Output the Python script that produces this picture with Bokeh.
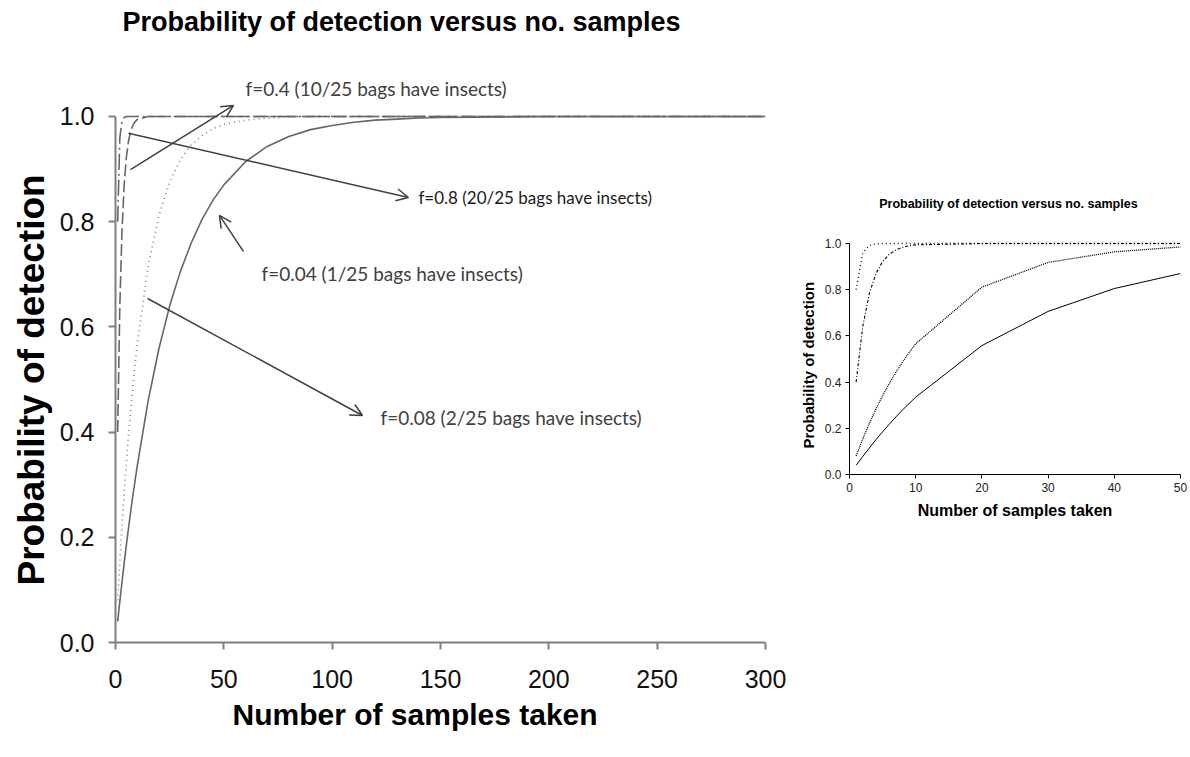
from bokeh.plotting import figure
from bokeh.models import Range1d, FixedTicker, PrintfTickFormatter, Arrow, OpenHead, Label, Spacer, Title
from bokeh.layouts import row, column
from bokeh.embed import file_html
from bokeh.resources import INLINE

# ---------------- data: left (large) chart ----------------
left_n = [1, 2, 3, 4, 5, 6, 7, 8, 9, 10, 15, 20, 25, 30, 35, 40, 45, 50,
          60, 70, 80, 90, 100, 110, 120, 130, 140, 150, 200, 250, 300]
left_f004 = [0.04, 0.078, 0.115, 0.151, 0.185, 0.217, 0.249, 0.279, 0.307, 0.335,
             0.458, 0.558, 0.640, 0.706, 0.760, 0.805, 0.841, 0.870,
             0.914, 0.943, 0.962, 0.975, 0.983, 0.989, 0.993, 0.995, 0.997, 0.998,
             1.0, 1.0, 1.0]
left_f008 = [0.08, 0.154, 0.221, 0.284, 0.341, 0.394, 0.442, 0.487, 0.528, 0.566,
             0.714, 0.811, 0.876, 0.918, 0.946, 0.964, 0.977, 0.985,
             0.993, 0.997, 0.999, 1.0, 1.0, 1.0, 1.0, 1.0, 1.0, 1.0,
             1.0, 1.0, 1.0]
left_f04 = [0.40, 0.64, 0.784, 0.870, 0.922, 0.953, 0.972, 0.983, 0.990, 0.994,
            1.0, 1.0, 1.0, 1.0, 1.0, 1.0, 1.0, 1.0,
            1.0, 1.0, 1.0, 1.0, 1.0, 1.0, 1.0, 1.0, 1.0, 1.0,
            1.0, 1.0, 1.0]
left_f08 = [0.80, 0.96, 0.992, 0.998, 1.0, 1.0, 1.0, 1.0, 1.0, 1.0,
            1.0, 1.0, 1.0, 1.0, 1.0, 1.0, 1.0, 1.0,
            1.0, 1.0, 1.0, 1.0, 1.0, 1.0, 1.0, 1.0, 1.0, 1.0,
            1.0, 1.0, 1.0]
left_xticks = [0, 50, 100, 150, 200, 250, 300]
left_yticks = [0.0, 0.2, 0.4, 0.6, 0.8, 1.0]

# ---------------- data: right (small) chart ----------------
right_n = [1, 2, 3, 4, 5, 6, 7, 8, 9, 10, 20, 30, 40, 50]
right_f004 = [0.04, 0.078, 0.115, 0.151, 0.185, 0.217, 0.249, 0.279, 0.307, 0.335,
              0.558, 0.706, 0.805, 0.870]
right_f008 = [0.08, 0.154, 0.221, 0.284, 0.341, 0.394, 0.442, 0.487, 0.528, 0.566,
              0.811, 0.918, 0.964, 0.985]
right_f04 = [0.40, 0.64, 0.784, 0.870, 0.922, 0.953, 0.972, 0.983, 0.990, 0.994,
             1.0, 1.0, 1.0, 1.0]
right_f08 = [0.80, 0.96, 0.992, 0.998, 1.0, 1.0, 1.0, 1.0, 1.0, 1.0,
             1.0, 1.0, 1.0, 1.0]
right_xticks = [0, 10, 20, 30, 40, 50]
right_yticks = [0.0, 0.2, 0.4, 0.6, 0.8, 1.0]

title_text = "Probability of detection versus no. samples"
ylabel_text = "Probability of detection"
xlabel_text = "Number of samples taken"
note_f04 = "f=0.4 (10/25 bags have insects)"
note_f08 = "f=0.8 (20/25 bags have insects)"
note_f004 = "f=0.04 (1/25 bags have insects)"
note_f008 = "f=0.08 (2/25 bags have insects)"

AXIS_GRAY = "#7f7f7f"
CURVE_GRAY = "#666666"
NOTE_GRAY = "#404040"
SANS = "Liberation Sans"

# ================= left figure =================
p = figure(width=790, height=750, x_range=Range1d(0, 300), y_range=Range1d(0, 1.2167),
           output_backend="svg", toolbar_location=None, title=None,
           min_border_left=115, min_border_right=25, min_border_top=2, min_border_bottom=108)
p.outline_line_color = None
p.xgrid.visible = False
p.ygrid.visible = False

p.line(left_n, left_f004, line_color=CURVE_GRAY, line_width=1.6)
p.line(left_n, left_f008, line_color="#8a8a8a", line_width=1.8, line_dash="1 4")
p.line(left_n, left_f04, line_color=CURVE_GRAY, line_width=1.6, line_dash="12 4")
p.line(left_n, left_f08, line_color=CURVE_GRAY, line_width=1.6, line_dash="16 4 2 4")

for ax in (p.xaxis, p.yaxis):
    ax.axis_line_color = AXIS_GRAY
    ax.axis_line_width = 2
    ax.major_tick_line_color = AXIS_GRAY
    ax.major_tick_line_width = 2
    ax.major_tick_out = 7
    ax.major_tick_in = 0
    ax.minor_tick_line_color = None
    ax.major_label_text_font = SANS
    ax.major_label_text_font_size = "25px"
    ax.major_label_text_color = "#111111"
p.xaxis.bounds = (0, 300)
p.yaxis.bounds = (0, 1)
p.xaxis.ticker = FixedTicker(ticks=left_xticks)
p.yaxis.ticker = FixedTicker(ticks=left_yticks)
p.yaxis.formatter = PrintfTickFormatter(format="%.1f")
p.xaxis.major_label_standoff = 20
p.yaxis.major_label_standoff = 14

p.add_layout(Title(text=xlabel_text, align="left", offset=117, text_font=SANS,
                   text_font_style="bold", text_font_size="30px", text_color="#000000"), "below")
p.add_layout(Title(text=ylabel_text, align="left", offset=57, text_font=SANS,
                   text_font_style="bold", text_font_size="37px", text_color="#000000"), "left")
p.add_layout(Label(x=132, y=1.1787, text=title_text, text_align="center",
                   text_baseline="middle", text_font=SANS,
                   text_font_style="bold", text_font_size="27px", text_color="#000000"))

arrows = [
    (6.92, 0.899, 54.46, 1.021),
    (6.0, 0.968, 135.2, 0.846),
    (59.1, 0.743, 48.0, 0.812),
    (14.8, 0.654, 114.0, 0.4316),
]
for xs, ys, xe, ye in arrows:
    p.add_layout(Arrow(end=OpenHead(size=12, line_color=NOTE_GRAY, line_width=1.5),
                       x_start=xs, y_start=ys, x_end=xe, y_end=ye,
                       line_color=NOTE_GRAY, line_width=1.5))

notes = [
    (60.0, 1.053, note_f04, "19px", NOTE_GRAY),
    (139.8, 0.846, note_f08, "17px", "#1a1a1a"),
    (67.4, 0.7015, note_f004, "19px", NOTE_GRAY),
    (122.3, 0.4278, note_f008, "19px", NOTE_GRAY),
]
for x, y, t, fs, col in notes:
    p.add_layout(Label(x=x, y=y, text=t, text_align="left", text_baseline="middle",
                       text_font="Lato", text_font_size=fs, text_color=col))

# ================= right figure =================
q = figure(width=400, height=339, x_range=Range1d(0, 50), y_range=Range1d(0, 1.2424),
           output_backend="svg", toolbar_location=None, title=None,
           min_border_left=59, min_border_right=10, min_border_top=2, min_border_bottom=50)
q.outline_line_color = None
q.xgrid.visible = False
q.ygrid.visible = False

q.line(right_n, right_f004, line_color="black", line_width=1)
q.line(right_n, right_f008, line_color="black", line_width=1.3, line_dash="1 1")
q.line(right_n, right_f04, line_color="black", line_width=1.1, line_dash="3 2 1 2")
q.line(right_n, right_f08, line_color="black", line_width=1.3, line_dash="1 3")

for ax in (q.xaxis, q.yaxis):
    ax.axis_line_color = "black"
    ax.axis_line_width = 1
    ax.major_tick_line_color = "black"
    ax.major_tick_out = 4
    ax.major_tick_in = 0
    ax.minor_tick_line_color = None
    ax.major_label_text_font = SANS
    ax.major_label_text_font_size = "12px"
    ax.major_label_text_color = "#222222"
q.xaxis.bounds = (0, 50)
q.yaxis.bounds = (0, 1)
q.xaxis.ticker = FixedTicker(ticks=right_xticks)
q.yaxis.ticker = FixedTicker(ticks=right_yticks)
q.yaxis.formatter = PrintfTickFormatter(format="%.1f")
q.xaxis.major_label_standoff = 4
q.yaxis.major_label_standoff = 4

q.add_layout(Label(x=24.0, y=1.173, text=title_text, text_align="center",
                   text_baseline="middle", text_font=SANS,
                   text_font_style="bold", text_font_size="12.5px", text_color="#000000"))
q.add_layout(Title(text=xlabel_text, align="center", text_font=SANS,
                   text_font_style="bold", text_font_size="16px", text_color="#000000"), "below")
q.add_layout(Title(text=ylabel_text, align="left", offset=26, text_font=SANS,
                   text_font_style="bold", text_font_size="15px", text_color="#000000"), "left")

layout = row(p, column(Spacer(width=400, height=185), q))
open("out.html", "w").write(file_html(layout, INLINE))
